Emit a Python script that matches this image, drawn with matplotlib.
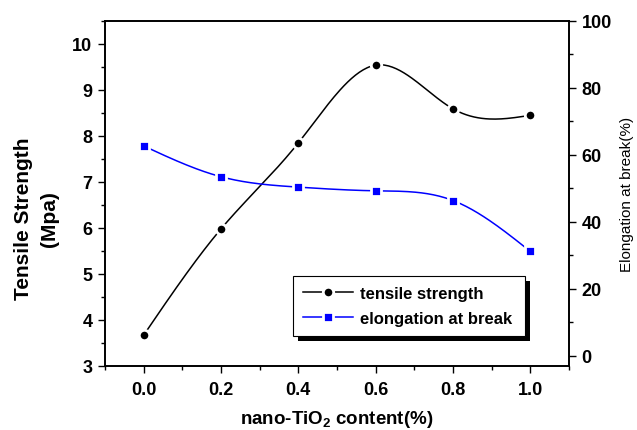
import numpy as np
import matplotlib.pyplot as plt
from matplotlib.patches import Rectangle
from matplotlib.ticker import MultipleLocator

plt.rcParams['font.family'] = ['Liberation Sans', 'DejaVu Sans']
plt.rcParams['mathtext.fontset'] = 'custom'
plt.rcParams['mathtext.rm'] = 'Liberation Sans'
plt.rcParams['mathtext.bf'] = 'Liberation Sans:bold'

# nano-TiO2 content (%)
content = [0.0, 0.2, 0.4, 0.6, 0.8, 1.0]
# tensile strength (MPa)
tensile = [3.67, 5.98, 7.85, 9.54, 8.59, 8.45]
# elongation at break (%)
elongation = [62.7, 53.5, 50.4, 49.3, 46.4, 31.2]


def spline(x, y, n=200):
    # natural cubic spline through the measured points, for the connecting line only
    x = np.asarray(x, float)
    y = np.asarray(y, float)
    h = np.diff(x)
    m = len(x)
    A = np.zeros((m, m))
    b = np.zeros(m)
    A[0, 0] = A[-1, -1] = 1
    for i in range(1, m - 1):
        A[i, i - 1] = h[i - 1]
        A[i, i] = 2 * (h[i - 1] + h[i])
        A[i, i + 1] = h[i]
        b[i] = 6 * ((y[i + 1] - y[i]) / h[i] - (y[i] - y[i - 1]) / h[i - 1])
    M = np.linalg.solve(A, b)
    xs = np.linspace(x[0], x[-1], n)
    idx = np.clip(np.searchsorted(x, xs) - 1, 0, m - 2)
    x0, x1 = x[idx], x[idx + 1]
    hh = x1 - x0
    ys = (M[idx] * (x1 - xs) ** 3 + M[idx + 1] * (xs - x0) ** 3) / (6 * hh) \
        + (y[idx] / hh - M[idx] * hh / 6) * (x1 - xs) \
        + (y[idx + 1] / hh - M[idx + 1] * hh / 6) * (xs - x0)
    return xs, ys


fig = plt.figure(figsize=(6.37, 4.31), dpi=100)
ax = fig.add_axes([0.1648, 0.1485, 0.7285, 0.8005])
ax2 = ax.twinx()

xs, ys = spline(content, tensile)
ax.plot(xs, ys, color='black', lw=1.1)
ax.plot(content, tensile, ls='none', marker='o', ms=7.5, mfc='black',
        mec='white', mew=2)

xs2, ys2 = spline(content, elongation)
ax2.plot(xs2, ys2, color='blue', lw=1.1)
ax2.plot(content, elongation, ls='none', marker='s', ms=7, mfc='blue',
         mec='white', mew=2)

ax.set_xlim(-0.1, 1.1)
ax.set_ylim(3, 10.5)
ax2.set_ylim(-3, 100)

ax.xaxis.set_major_locator(MultipleLocator(0.2))
ax.xaxis.set_minor_locator(MultipleLocator(0.1))
ax.yaxis.set_major_locator(MultipleLocator(1))
ax.yaxis.set_minor_locator(MultipleLocator(0.5))
ax2.yaxis.set_major_locator(MultipleLocator(20))
ax2.yaxis.set_minor_locator(MultipleLocator(10))
ax.set_xticks(content)
ax.set_xticklabels(['%.1f' % v for v in content])

ax.tick_params(axis='both', which='major', direction='out', length=5,
               width=1, labelsize=13, pad=4)
ax.tick_params(axis='x', which='major', pad=6)
ax.tick_params(axis='both', which='minor', direction='out', length=3, width=1)
ax2.tick_params(axis='y', which='major', direction='out', length=5,
                width=1, labelsize=13, pad=4)
ax2.tick_params(axis='y', which='minor', direction='out', length=3, width=1)
for lab in ax.get_xticklabels() + ax.get_yticklabels() + ax2.get_yticklabels():
    lab.set_fontweight('bold')

for a in (ax, ax2):
    for s in a.spines.values():
        s.set_linewidth(1.2)

ax.set_xlabel(r'nano-TiO$_{\mathbf{2}}$ content(%)', fontsize=13.5,
              fontweight='bold')
ax.xaxis.set_label_coords(0.5, -0.122)
ax.set_ylabel('Tensile Strength\n(Mpa)', fontsize=15, fontweight='bold',
              linespacing=1.45)
ax.yaxis.set_label_coords(-0.10, 0.43)
ax2.set_ylabel('Elongation at break(%)', fontsize=11)
ax2.yaxis.set_label_coords(1.11, 0.5)

h1 = plt.Line2D([], [], color='black', lw=1.1, marker='o', ms=7.5,
                mfc='black', mec='white', mew=2)
h2 = plt.Line2D([], [], color='blue', lw=1.1, marker='s', ms=7,
                mfc='blue', mec='white', mew=2)
leg = ax2.legend([h1, h2], ['tensile strength', 'elongation at break'],
                 loc='lower left', bbox_to_anchor=(0.405, 0.087, 0.5, 0.17),
                 mode='expand', borderaxespad=0, fancybox=False,
                 framealpha=1, facecolor='white',
                 edgecolor='black', prop={'size': 12, 'weight': 'bold'},
                 handlelength=3.0, handletextpad=0.4, labelspacing=0.6,
                 borderpad=0.6)
leg.get_frame().set_linewidth(0.8)
leg.set_zorder(6)

# solid black drop shadow behind the legend box
fig.canvas.draw()
bb = leg.get_window_extent()
ax2.add_patch(Rectangle((bb.x0 + 5, bb.y0 - 5), bb.width, bb.height,
                        transform=None, facecolor='black', edgecolor='none',
                        clip_on=False, zorder=5))

fig.savefig('out.png', dpi=100)
